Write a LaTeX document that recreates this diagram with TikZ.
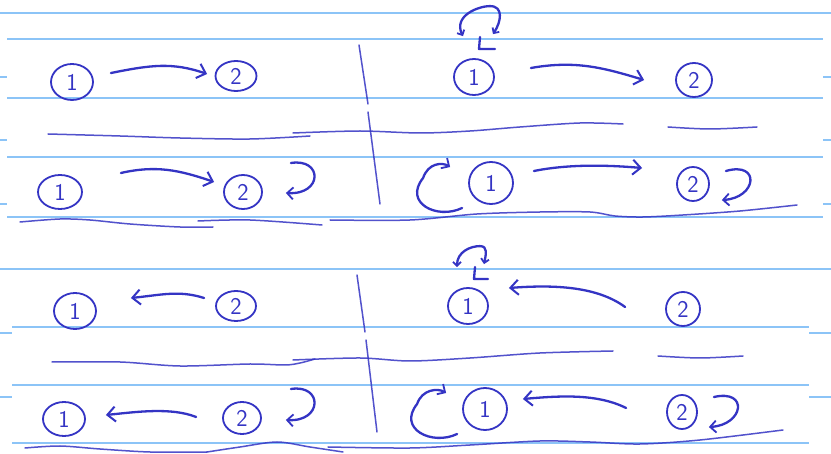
\documentclass[tikz,border=0pt]{standalone}
\usetikzlibrary{shapes.geometric,arrows.meta}
\definecolor{ink}{RGB}{52,52,196}
\definecolor{rule}{RGB}{140,196,247}
\begin{document}
\begin{tikzpicture}[x=1pt,y=-1pt,
  inkline/.style={draw=ink,line width=2.3pt,line cap=round,line join=round},
  faint/.style={draw=ink,line width=1.5pt,line cap=round,line join=round,opacity=0.85},
  st/.style={ellipse,draw=ink,line width=1.8pt,inner sep=0pt,text=ink,
    font=\sffamily\fontsize{24}{24}\selectfont},
  paper/.style={draw=rule,line width=1.6pt},
  barb/.style={-{Straight Barb[length=8pt,width=15pt,line width=2pt]}},
  sbarb/.style={-{Straight Barb[length=6pt,width=12pt,line width=1.8pt]}},
  dbarb/.style={{Straight Barb[length=4pt,width=8pt,line width=1.8pt]}-{Straight Barb[length=4pt,width=8pt,line width=1.8pt]}},
]
\useasboundingbox (0,0) rectangle (831,454);
\fill[white] (0,0) rectangle (831,454);

% ruled paper
\draw[paper] (0,13) -- (831,13);
\foreach \y in {39,98,157,217} \draw[paper] (7,\y) -- (823,\y);
\foreach \y in {77,140,204} {\draw[paper] (0,\y) -- (7,\y); \draw[paper] (823,\y) -- (831,\y);}
\draw[paper] (0,269) -- (831,269);
\foreach \y in {327,385,443} \draw[paper] (12,\y) -- (809,\y);
\foreach \y in {333,397} {\draw[paper] (0,\y) -- (12,\y); \draw[paper] (809,\y) -- (831,\y);}

% dividers
\draw[faint] (359,45) -- (368,104);
\draw[faint] (368,112) -- (380,204);
\draw[faint] (357,275) -- (365,332);
\draw[faint] (366,340) -- (377,432);

% separators, top half
\draw[faint] plot[smooth] coordinates {(48,134) (120,136) (180,138) (250,139) (310,136)};
\draw[faint] plot[smooth] coordinates {(293,133) (360,131) (420,133) (470,131) (520,127) (580,123) (623,124)};
\draw[faint] plot[smooth] coordinates {(668,127) (710,129) (757,127)};
\draw[faint] plot[smooth] coordinates {(20,222) (60,219) (90,220) (130,224) (180,227) (213,227)};
\draw[faint] plot[smooth] coordinates {(198,221) (250,220) (322,225)};
\draw[faint] plot[smooth] coordinates {(330,220) (410,220) (477,214) (540,212) (590,212) (615,216) (643,217) (683,215) (740,211) (797,205)};

% separators, bottom half
\draw[faint] plot[smooth] coordinates {(52,362) (120,362) (180,366) (250,364) (285,365) (300,363) (315,359)};
\draw[faint] plot[smooth] coordinates {(293,360) (360,358) (410,361) (470,358) (540,353) (613,351)};
\draw[faint] plot[smooth] coordinates {(658,356) (700,358) (743,356)};
\draw[faint] plot[smooth] coordinates {(25,448) (60,446) (100,449) (150,452) (207,452)};
\draw[faint] plot[smooth] coordinates {(207,452) (240,447) (277,442) (310,447) (343,452)};
\draw[faint] plot[smooth] coordinates {(328,447) (410,448) (470,445) (540,441) (590,442) (640,444) (700,440) (783,430)};

% states
\node[st,minimum width=42pt,minimum height=36pt] (a1) at (72,82) {1};
\node[st,minimum width=41pt,minimum height=30pt] (a2) at (236,76) {2};
\node[st,minimum width=44pt,minimum height=34pt] (b1) at (60,192) {1};
\node[st,minimum width=38pt,minimum height=34pt] (b2) at (243,192) {2};
\node[st,minimum width=40pt,minimum height=36pt] (c1) at (474,77) {1};
\node[st,minimum width=36pt,minimum height=34pt] (c2) at (694,80) {2};
\node[st,minimum width=44pt,minimum height=42pt] (d1) at (491,183) {1};
\node[st,minimum width=32pt,minimum height=34pt] (d2) at (693,184) {2};
\node[st,minimum width=42pt,minimum height=36pt] (e1) at (75,311) {1};
\node[st,minimum width=40pt,minimum height=30pt] (e2) at (236,306) {2};
\node[st,minimum width=42pt,minimum height=34pt] (f1) at (64,419) {1};
\node[st,minimum width=38pt,minimum height=32pt] (f2) at (242,418) {2};
\node[st,minimum width=40pt,minimum height=36pt] (g1) at (468,306) {1};
\node[st,minimum width=34pt,minimum height=34pt] (g2) at (683,309) {2};
\node[st,minimum width=44pt,minimum height=42pt] (h1) at (485,409) {1};
\node[st,minimum width=30pt,minimum height=34pt] (h2) at (682,412) {2};

% transitions 1 -> 2
\draw[inkline,barb] ([shift={(17,-9)}]a1.east) .. controls +(40,-8) and +(-35,-12) .. ([shift={(-7.5,-2)}]a2.west);
\draw[inkline,barb] ([shift={(38,-19)}]b1.east) .. controls +(35,-8) and +(-35,-12) .. ([shift={(-9,-10)}]b2.west);
\draw[inkline,barb] ([shift={(36,-9)}]c1.east) .. controls +(45,-8) and +(-40,-12) .. ([shift={(-31,0)}]c2.west);
\draw[inkline,barb] ([shift={(20,-12)}]d1.east) .. controls +(35,-7) and +(-35,-3) .. ([shift={(-34,-16)}]d2.west);

% transitions 2 -> 1
\draw[inkline,barb] ([shift={(-11,-8)}]e2.west) .. controls +(-25,-8) and +(30,-3) .. ([shift={(34,-13)}]e1.east);
\draw[inkline,barb] ([shift={(-26,-1)}]f2.west) .. controls +(-25,-10) and +(30,-3) .. ([shift={(20,-4)}]f1.east);
\draw[inkline,barb] ([shift={(-40,-2)}]g2.west) .. controls +(-30,-22) and +(40,-3) .. ([shift={(20,-18)}]g1.east);
\draw[inkline,barb] ([shift={(-40,-4)}]h2.west) .. controls +(-30,-15) and +(35,-3) .. ([shift={(15,-10)}]h1.east);

% self loops on state 2
\draw[inkline,sbarb] ([shift={(28,-29)}]b2.east) .. controls +(32,-5) and +(37,2) .. ([shift={(23,1)}]b2.east);
\draw[inkline,sbarb] ([shift={(29,-29)}]f2.east) .. controls +(32,-5) and +(37,2) .. ([shift={(24,2)}]f2.east);
\draw[inkline,sbarb] ([shift={(16,-13)}]d2.east) .. controls +(35,-10) and +(35,-2) .. ([shift={(12,16)}]d2.east);
\draw[inkline,sbarb] ([shift={(16,-15)}]h2.east) .. controls +(35,-8) and +(35,-2) .. ([shift={(11,15)}]h2.east);

% self loops on state 1 (circular arrows)
\draw[inkline,sbarb] ([shift={(-6,25)}]d1.west) .. controls +(-25,12) and +(-20,25) .. ([shift={(-45,-5)}]d1.west)
   .. controls +(5,-15) and +(-8,-5) .. ([shift={(-18,-16)}]d1.west);
\draw[inkline,sbarb] ([shift={(-5,25)}]h1.west) .. controls +(-25,12) and +(-20,25) .. ([shift={(-45,-5)}]h1.west)
   .. controls +(5,-15) and +(-8,-5) .. ([shift={(-16,-16)}]h1.west);

% loops above state 1
\draw[inkline,dbarb] ([shift={(-11,-22)}]c1.north) .. controls +(-10,-20) and +(-12,0) .. ([shift={(16,-52)}]c1.north)
   .. controls +(14,0) and +(8,-12) .. ([shift={(19,-24)}]c1.north);
\draw[inkline] (480,37) -- (479,49) -- (495,49);
\draw[inkline,dbarb] ([shift={(-11,-20)}]g1.north) .. controls +(0,-15) and +(-10,0) .. ([shift={(12,-41)}]g1.north)
   .. controls +(8,0) and +(2,-10) .. ([shift={(16,-23)}]g1.north);
\draw[inkline] (475,267) -- (474,279) -- (488,279);
\end{tikzpicture}
\end{document}
